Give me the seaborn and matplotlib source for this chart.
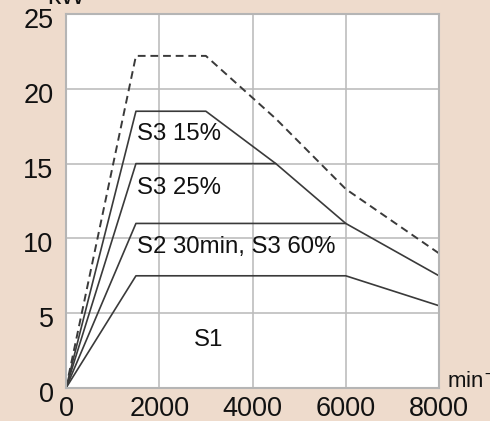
import matplotlib
matplotlib.use("Agg")
import matplotlib.pyplot as plt
import matplotlib.transforms as mtransforms
import seaborn as sns

# Data (speed in min^-1, power in kW)
s1_x = [0, 1500, 6000, 8000]
s1_y = [0, 7.5, 7.5, 5.5]
s2_x = [0, 1500, 6000, 8000]
s2_y = [0, 11.0, 11.0, 7.5]
s25_x = [0, 1500, 4500, 6000]
s25_y = [0, 15.0, 15.0, 11.0]
s15_x = [0, 1500, 3000, 4500]
s15_y = [0, 18.5, 18.5, 15.0]
max_x = [0, 1500, 3000, 4500, 6000, 8000]
max_y = [0, 22.2, 22.2, 18.0, 13.3, 9.0]

labels = ["S3 15%", "S3 25%", "S2 30min, S3 60%", "S1"]
label_x = [1530, 1530, 1530, 2750]
label_y = [17.0, 13.4, 9.4, 3.2]
xticks = [0, 2000, 4000, 6000, 8000]
yticks = [0, 5, 10, 15, 20, 25]

sns.set_theme(style="white")
plt.rcParams['font.family'] = ['Liberation Sans', 'DejaVu Sans']

bg = "#EEDBCC"
fig = plt.figure(figsize=(4.9, 4.21), dpi=100, facecolor=bg)
ax = fig.add_axes([66/490, 33/421, (439-66)/490, (388-14)/421])
ax.set_facecolor("white")

line_color = "#3a3a3a"
for xs, ys in [(s1_x, s1_y), (s2_x, s2_y), (s25_x, s25_y), (s15_x, s15_y)]:
    sns.lineplot(x=xs, y=ys, ax=ax, color=line_color, lw=1.2, sort=False,
                 estimator=None)
sns.lineplot(x=max_x, y=max_y, ax=ax, color=line_color, lw=1.4, sort=False,
             estimator=None, dashes=False, linestyle=(0, (4, 2.5)))

for t, x, y in zip(labels, label_x, label_y):
    ax.text(x, y, t, fontsize=17.3, va="center", ha="left", color="#111111")

ax.set_xlim(0, 8000)
ax.set_ylim(0, 25)
ax.set_xticks(xticks)
ax.set_yticks(yticks)
ax.set_xticklabels([str(v) for v in xticks], fontsize=19.5, color="#111111")
ax.set_yticklabels([str(v) for v in yticks], fontsize=19.5, color="#111111")
ax.tick_params(axis="both", length=0)
ax.tick_params(axis="y", pad=9)
ax.tick_params(axis="x", pad=6)
offset = mtransforms.ScaledTranslation(0, -4/100, fig.dpi_scale_trans)
for lab in ax.get_yticklabels():
    lab.set_transform(lab.get_transform() + offset)
ax.grid(True, color="#bdbdbd", lw=1.2)
for s in ax.spines.values():
    s.set_color("#b5b5b5")
    s.set_linewidth(1.5)
ax.set_xlabel("")
ax.set_ylabel("")

fig.text(66/490, 1 - (-3)/421, "kW", fontsize=19, ha="center", va="center",
         color="#111111")
fig.text(447/490, 1 - 381/421, "min$^{-1}$", fontsize=16, ha="left", va="center",
         color="#111111")

fig.savefig("out.png", dpi=100, facecolor=bg)
